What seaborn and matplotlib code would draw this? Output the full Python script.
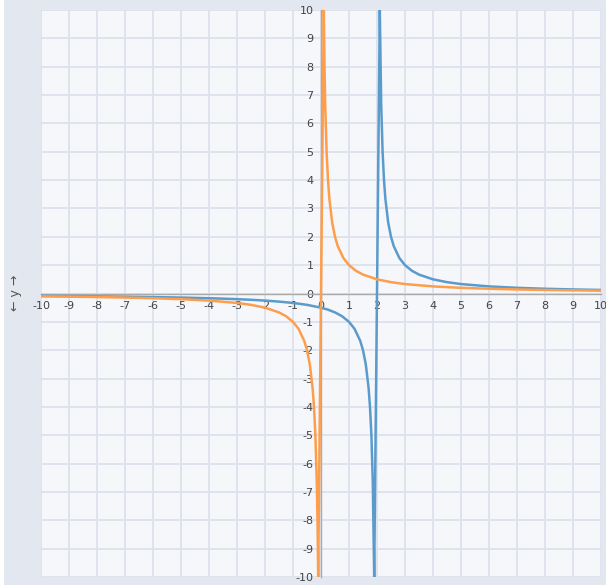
import numpy as np
import pandas as pd
import matplotlib
matplotlib.use("Agg")
import matplotlib.pyplot as plt
import seaborn as sns
from matplotlib.patches import Rectangle

# blue curve (pole near x = 2)
blue_x = [-10, -9, -8, -7, -6, -5, -4, -3.5, -3, -2.5, -2, -1.5, -1, -0.5, 0, 0.25, 0.5, 0.75, 1,
          1.2, 1.4, 1.5, 1.6, 1.7, 1.75, 1.8, 1.85, 1.9,
          2.1, 2.15, 2.2, 2.25, 2.3, 2.4, 2.5, 2.6, 2.8, 3, 3.25, 3.5, 4, 4.5, 5, 6, 7, 8, 9, 10]
blue_y = [-0.083, -0.091, -0.1, -0.111, -0.125, -0.143, -0.167, -0.182, -0.2, -0.222, -0.25, -0.286,
          -0.333, -0.4, -0.5, -0.571, -0.667, -0.8, -1,
          -1.25, -1.667, -2, -2.5, -3.333, -4, -5, -6.667, -10,
          10, 6.667, 5, 4, 3.333, 2.5, 2, 1.667, 1.25, 1, 0.8, 0.667, 0.5, 0.4, 0.333, 0.25, 0.2,
          0.167, 0.143, 0.125]

# orange curve (pole near x = 0)
orange_x = [-10, -9, -8, -7, -6, -5, -4, -3, -2.5, -2, -1.5, -1.25, -1, -0.8, -0.6, -0.5, -0.4,
            -0.3, -0.25, -0.2, -0.15, -0.125, -0.1,
            0.1, 0.125, 0.15, 0.2, 0.25, 0.3, 0.4, 0.5, 0.6, 0.8, 1, 1.25, 1.5, 2, 2.5, 3, 4, 5,
            6, 7, 8, 9, 10]
orange_y = [-0.1, -0.111, -0.125, -0.143, -0.167, -0.2, -0.25, -0.333, -0.4, -0.5, -0.667, -0.8,
            -1, -1.25, -1.667, -2, -2.5, -3.333, -4, -5, -6.667, -8, -10,
            10, 8, 6.667, 5, 4, 3.333, 2.5, 2, 1.667, 1.25, 1, 0.8, 0.667, 0.5, 0.4, 0.333, 0.25,
            0.2, 0.167, 0.143, 0.125, 0.111, 0.1]

ticks = list(range(-10, 11))

sns.set_style("white")
plt.rcParams['font.family'] = ['DejaVu Sans']
plt.rcParams['axes.unicode_minus'] = False

fig = plt.figure(figsize=(6.06, 5.85), dpi=100, facecolor="#e3e7ef")
fig.patches.append(Rectangle((0, 0), 4 / 606, 1, transform=fig.transFigure,
                             facecolor="white", edgecolor="none", zorder=0))
ax = fig.add_axes([41 / 606, 8 / 585, 560 / 606, 567 / 585])
ax.set_facecolor("#f6f7fa")

blue = pd.DataFrame({"x": blue_x, "y": blue_y})
orange = pd.DataFrame({"x": orange_x, "y": orange_y})
sns.lineplot(data=blue, x="x", y="y", sort=False, ax=ax, color="#5a9bcb", linewidth=1.8, zorder=3)
sns.lineplot(data=orange, x="x", y="y", sort=False, ax=ax, color="#fd9e4c", linewidth=1.8, zorder=3)

ax.set_xlim(-10, 10)
ax.set_ylim(-10, 10)
ax.set_xticks(ticks)
ax.set_yticks(ticks)
ax.grid(True, color="#dde1ec", linewidth=1.3, zorder=0)
ax.set_axisbelow(True)

for s in ["top", "right"]:
    ax.spines[s].set_visible(False)
ax.spines["left"].set_position(("data", 0))
ax.spines["bottom"].set_position(("data", 0))
for s in ["left", "bottom"]:
    ax.spines[s].set_color("#aaaaaa")
    ax.spines[s].set_linewidth(1)
    ax.spines[s].set_zorder(2)
ax.tick_params(axis="both", length=4, width=0.8, color="#999999", labelsize=8,
               labelcolor="#444444", pad=1.5)
ax.set_xlabel("")
ax.set_ylabel("")

fig.text(15 / 606, 1 - 293 / 585, "← y →", rotation=90, ha="center", va="center",
         fontsize=9, color="#555555")

fig.savefig("out.png", dpi=100, facecolor=fig.get_facecolor())
